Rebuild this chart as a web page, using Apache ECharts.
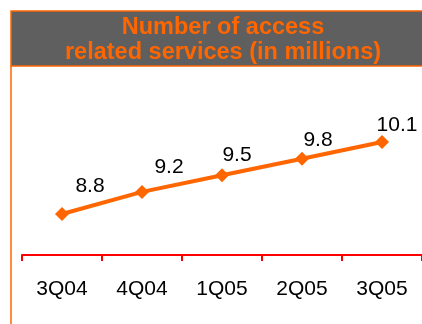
<!DOCTYPE html>
<html><head><meta charset="utf-8">
<script src="https://cdn.jsdelivr.net/npm/echarts@6/dist/echarts.min.js"></script>
<style>html,body{margin:0;padding:0;background:#fff}#c{width:422px;height:324px}</style>
</head><body><div id="c"></div>
<script>
const titleLines = ['Number of access', 'related services (in millions)'];
const categories = ['3Q04', '4Q04', '1Q05', '2Q05', '3Q05'];
const services = [8.8, 9.2, 9.5, 9.8, 10.1];
// label placement (style only)
const labelShift = [[28, -29], [27, -26], [15, -21], [16, -19], [15, -18]];

const chart = echarts.init(document.getElementById('c'), null, {renderer: 'canvas'});
const ORANGE = '#ff6600';
chart.setOption({
  animation: false,
  backgroundColor: '#ffffff',
  graphic: [
    {type: 'rect', shape: {x: 11, y: 11, width: 420, height: 55},
     style: {fill: '#5f5f5f', stroke: ORANGE, lineWidth: 1.5}, z: 1},
    {type: 'line', shape: {x1: 11, y1: 66, x2: 11, y2: 330},
     style: {stroke: ORANGE, lineWidth: 1.5}, z: 1},
    {type: 'text', x: 223, y: 40, z: 2,
     style: {text: titleLines.join('\n'), fill: ORANGE, font: 'bold 23.5px "Liberation Sans", Arial, sans-serif',
       align: 'center', verticalAlign: 'middle', lineHeight: 25.5}}
  ],
  grid: {left: 22, right: 0, top: 100, bottom: 69, containLabel: false},
  xAxis: {
    type: 'category', data: categories, boundaryGap: true,
    axisLine: {show: true, lineStyle: {color: '#ff0000', width: 2}},
    axisTick: {show: true, length: 6, lineStyle: {color: '#ff0000', width: 2}, alignWithLabel: false},
    axisLabel: {color: '#000', fontSize: 21, fontFamily: '"Liberation Sans", Arial, sans-serif', margin: 24}
  },
  yAxis: {type: 'value', min: 8.06, max: 10.86, show: false, splitLine: {show: false}},
  series: [{
    type: 'line', data: services.map((v, i) => ({
      value: v,
      label: {offset: [labelShift[i][0], labelShift[i][1] + 18.5]}
    })),
    symbol: 'diamond', symbolSize: 14,
    lineStyle: {color: ORANGE, width: 4},
    itemStyle: {color: ORANGE},
    label: {show: true, position: 'top', distance: 0, color: '#000', fontSize: 21,
      fontFamily: '"Liberation Sans", Arial, sans-serif', formatter: p => p.value.toFixed(1)}
  }]
});
</script></body></html>
